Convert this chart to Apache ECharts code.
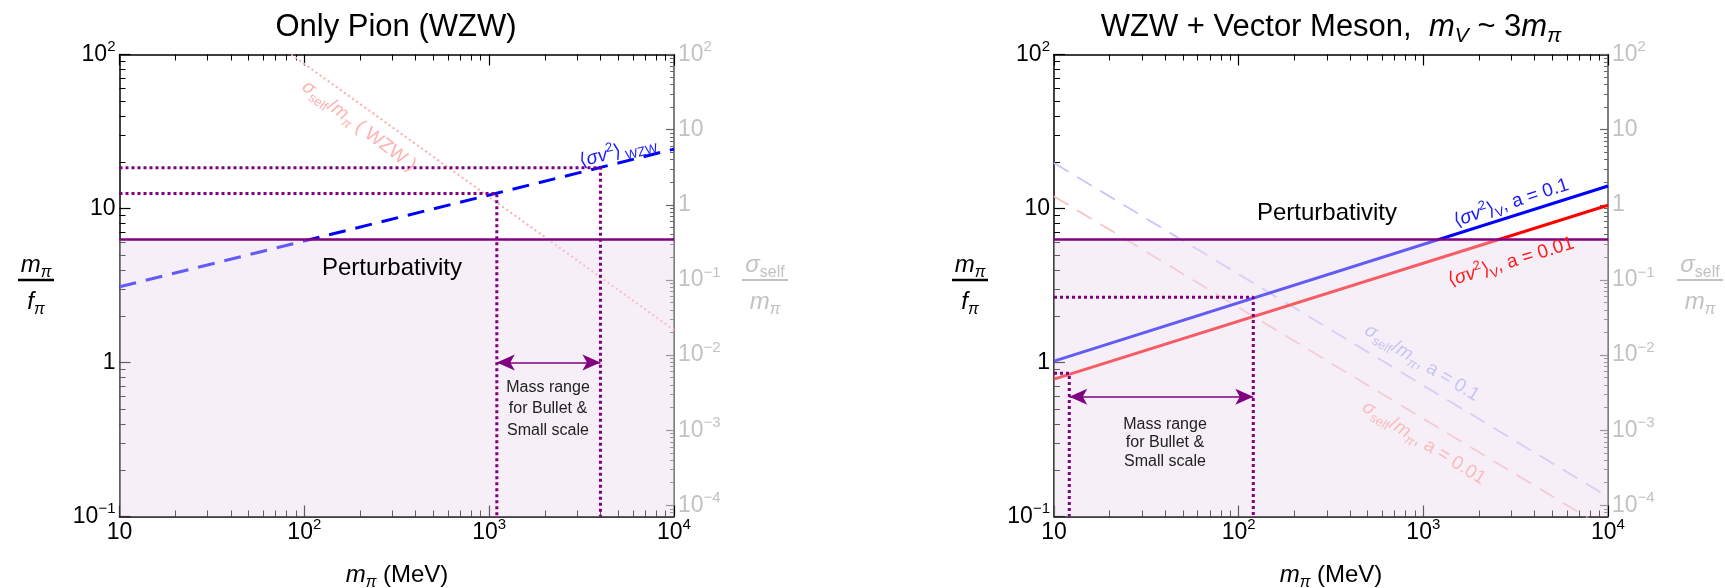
<!DOCTYPE html>
<html>
<head>
<meta charset="utf-8">
<script src="https://cdn.jsdelivr.net/npm/echarts@6/dist/echarts.min.js"></script>
<style>
  html, body { margin: 0; padding: 0; background: #ffffff; }
  #chart { width: 1725px; height: 588px; }
</style>
</head>
<body>
<div id="chart"></div>
<script>
// ---------- axis ranges and tick values ----------
const massRange  = [10, 10000];        // m_pi (MeV)
const ratioRange = [0.1, 100];         // m_pi / f_pi
const sigmaRange = [7.1e-5, 100];      // sigma_self / m_pi
const massTicks  = [10, 100, 1000, 10000];
const ratioTicks = [0.1, 1, 10, 100];
const sigmaTicks = [1e-4, 1e-3, 1e-2, 1e-1, 1, 10, 100];

// perturbativity bound  m_pi / f_pi < 2 pi
const perturbBound = 6.283;

// ---------- left panel: pion only (WZW) ----------
const wzwMass      = [10, 10000];
const wzwRatio     = [3.1, 24.3];      // <sigma v^2>_WZW
const wzwSelfMass  = [85, 10000];
const wzwSelf      = [100, 0.0215];    // sigma_self / m_pi (WZW)
const wzwGuideMass = [1100, 4000];     // mass range edges
const wzwGuideRatio = [12.5, 18.4];
const wzwArrowLevel = 1;

// ---------- right panel: WZW + vector meson ----------
const vecMass        = [10, 10000];
const vecRatioA1     = [1.02, 14.0];   // <sigma v^2>_V, a = 0.1
const vecRatioA01    = [0.78, 10.5];   // <sigma v^2>_V, a = 0.01
const vecSelfA1      = [3.6, 1.3e-4];  // sigma_self / m_pi, a = 0.1
const vecSelfA01     = [1.3, 4.7e-5];  // sigma_self / m_pi, a = 0.01
const vecGuideMass   = [12.1, 120];
const vecGuideRatio  = [0.85, 2.65];
const vecArrowLevel  = 0.6;

// ---------- styling ----------
const F = 'Liberation Sans';
const PURPLE = '#800080';
const SHADE = 'rgba(235,218,235,0.42)';
const GRAY_TXT = '#c2c2c2';

const grids = [
  { left: 119.5, top: 54.5, width: 554.5, height: 462 },
  { left: 1054, top: 54.5, width: 554, height: 462 }
];

function zip(xs, ys) { return xs.map((x, i) => [x, ys[i]]); }

function minorTicks(lo, hi) {
  const out = [];
  for (let e = Math.floor(Math.log10(lo)); e < Math.log10(hi); e++) {
    for (let k = 2; k <= 9; k++) {
      const v = k * Math.pow(10, e);
      if (v > lo && v < hi) out.push(v);
    }
  }
  return out;
}

function powLabel(v) {
  const e = Math.round(Math.log10(v));
  if (e === 0) return '{b|1}';
  if (e === 1) return '{b|10}';
  return '{b|10}{s|' + (e < 0 ? '\u2212' + (-e) : e) + '}';
}
function labelRich(color) {
  return {
    b: { fontSize: 23, fontFamily: F, color: color, lineHeight: 30 },
    s: { fontSize: 15, fontFamily: F, color: color, lineHeight: 17, verticalAlign: 'top' }
  };
}

function logAxis(gi, pos, range, major, minor, opts) {
  const base = {
    type: 'log', logBase: 10, gridIndex: gi, position: pos,
    min: range[0], max: range[1], splitLine: { show: false },
    axisLine: { show: true, onZero: false, lineStyle: { color: opts.line, width: 1.5 } }
  };
  const majorAxis = Object.assign({}, base, {
    axisTick: { show: true, inside: true, length: opts.major, customValues: major,
                lineStyle: { color: opts.tick, width: 1.2 } },
    axisLabel: opts.labels ? { show: true, customValues: major, formatter: powLabel,
                rich: labelRich(opts.labelColor), margin: opts.margin } : { show: false }
  });
  const minorAxis = Object.assign({}, base, {
    axisLine: { show: false, onZero: false },
    axisTick: { show: true, inside: true, length: opts.minor, customValues: minor,
                lineStyle: { color: opts.tick, width: 1 } },
    axisLabel: { show: false }
  });
  return [majorAxis, minorAxis];
}

const xAxes = [], yAxes = [];
[0, 1].forEach(gi => {
  const mMinor = minorTicks(massRange[0], massRange[1]);
  xAxes.push(...logAxis(gi, 'bottom', massRange, massTicks, mMinor,
    { line: '#000', tick: '#000', major: 11, minor: 6, labels: true, labelColor: '#000', margin: 1 }));
  xAxes.push(...logAxis(gi, 'top', massRange, massTicks, mMinor,
    { line: '#000', tick: '#000', major: 11, minor: 6, labels: false }));
  yAxes.push(...logAxis(gi, 'left', ratioRange, ratioTicks, minorTicks(ratioRange[0], ratioRange[1]),
    { line: '#000', tick: '#000', major: 11, minor: 6, labels: true, labelColor: '#000', margin: 4 }));
  yAxes.push(...logAxis(gi, 'right', sigmaRange, sigmaTicks, minorTicks(sigmaRange[0], sigmaRange[1]),
    { line: '#555', tick: '#666', major: 8, minor: 4, labels: true, labelColor: GRAY_TXT, margin: 4 }));
});
// axis indices: grid g -> x: 4g (main), y: 4g (ratio), 4g+2 (sigma)

function lineSeries(gi, yKind, data, color, width, dash, extra) {
  return Object.assign({
    type: 'line', xAxisIndex: 4 * gi, yAxisIndex: 4 * gi + (yKind === 'sigma' ? 2 : 0),
    data: data, showSymbol: false, symbol: 'none', silent: true, clip: true, z: 2,
    lineStyle: { color: color, width: width, type: dash || 'solid' }
  }, extra || {});
}
// translucent band below the perturbativity bound, laid over the curves
function shade(gi) {
  return lineSeries(gi, 'ratio', [[massRange[0], perturbBound], [massRange[1], perturbBound]],
    PURPLE, 2.5, 'solid', { z: 3, areaStyle: { color: SHADE, origin: 'start', opacity: 1 } });
}
function guide(gi, m, r) {
  return lineSeries(gi, 'ratio', [[massRange[0], r], [m, r], [m, ratioRange[0]]],
    PURPLE, 3, [3, 3], { z: 4 });
}
function arrow(gi, masses, level) {
  return lineSeries(gi, 'ratio', [], PURPLE, 1.5, 'solid', {
    z: 4,
    markLine: {
      silent: true, animation: false, symbol: ['arrow', 'arrow'], symbolSize: [12, 18],
      lineStyle: { color: PURPLE, width: 1.6, type: 'solid' },
      label: { show: false },
      data: [[{ coord: [masses[0], level] }, { coord: [masses[1], level] }]]
    }
  });
}

const series = [
  // left panel
  lineSeries(0, 'sigma', zip(wzwSelfMass, wzwSelf), '#ffaaaa', 2, [2, 3]),
  lineSeries(0, 'ratio', zip(wzwMass, wzwRatio), '#0000ff', 3, [17, 10]),
  shade(0),
  guide(0, wzwGuideMass[0], wzwGuideRatio[0]),
  guide(0, wzwGuideMass[1], wzwGuideRatio[1]),
  arrow(0, wzwGuideMass, wzwArrowLevel),
  // right panel
  lineSeries(1, 'sigma', zip(vecMass, vecSelfA1), '#c6c6fb', 1.8, [17, 10]),
  lineSeries(1, 'sigma', zip(vecMass, vecSelfA01), '#fbc2c2', 1.8, [17, 10]),
  lineSeries(1, 'ratio', zip(vecMass, vecRatioA1), '#0000ff', 3),
  lineSeries(1, 'ratio', zip(vecMass, vecRatioA01), '#ff0000', 3),
  shade(1),
  guide(1, vecGuideMass[0], vecGuideRatio[0]),
  guide(1, vecGuideMass[1], vecGuideRatio[1]),
  arrow(1, vecGuideMass, vecArrowLevel)
];

// ---------- text helpers ----------
function richSet(size, color) {
  const s = Math.round(size * 0.68);
  const lh = Math.round(size * 1.3);
  return {
    n:  { font: `${size}px ${F}`, fill: color, lineHeight: lh },
    i:  { font: `italic ${size}px ${F}`, fill: color, lineHeight: lh },
    sb: { font: `${s}px ${F}`, fill: color, lineHeight: s, verticalAlign: 'bottom' },
    si: { font: `italic ${s}px ${F}`, fill: color, lineHeight: s, verticalAlign: 'bottom' },
    sp: { font: `${s}px ${F}`, fill: color, lineHeight: s, verticalAlign: 'top' }
  };
}
function txt(x, y, text, size, color, rot, lineHeight) {
  const style = { text: text, rich: richSet(size, color), fill: color,
                  font: `${size}px ${F}`, align: 'center', verticalAlign: 'middle' };
  if (lineHeight) style.lineHeight = lineHeight;
  return { type: 'text', x: x, y: y, z: 50, silent: true,
           rotation: (rot || 0) * Math.PI / 180, style: style };
}
function fraction(cx, cy, num, den, size, color, barW, barLw) {
  return [
    txt(cx, cy - 15, num, size, color),
    { type: 'line', z: 50, silent: true,
      shape: { x1: cx - barW / 2, y1: cy, x2: cx + barW / 2, y2: cy },
      style: { stroke: color, lineWidth: barLw } },
    txt(cx, cy + 22, den, size, color)
  ];
}

const mPi = '{i|m}{si|\u03c0}';
const fPi = '{i|f}{si|\u03c0}';
const sigSelf = '{i|\u03c3}{sb|self}';
const sv2 = '{n|\u27e8}{i|\u03c3v}{sp|2}{n|\u27e9}';

const graphics = [
  // panel titles
  txt(396, 27, 'Only Pion (WZW)', 31, '#000'),
  txt(1331, 27, '{n|WZW + Vector Meson,  }{i|m}{si|V}{n| ~ 3}{i|m}{si|\u03c0}', 31, '#000'),
  // x-axis titles
  txt(397, 575, '{i|m}{si|\u03c0}{n| (MeV)}', 24, '#000'),
  txt(1331, 575, '{i|m}{si|\u03c0}{n| (MeV)}', 24, '#000'),
  // y-axis titles
  ...fraction(36, 280, mPi, fPi, 24, '#000', 36, 2.5),
  ...fraction(970, 280, mPi, fPi, 24, '#000', 36, 2.5),
  ...fraction(765, 280, sigSelf, mPi, 24, GRAY_TXT, 46, 2),
  ...fraction(1700, 280, sigSelf, mPi, 24, GRAY_TXT, 46, 2),
  // left panel annotations
  txt(392, 268, 'Perturbativity', 24, '#000'),
  txt(359, 126, '{i|\u03c3}{sb|self}{n|/}{i|m}{si|\u03c0}{n| ( WZW )}', 19, '#ffb0b0', -37),
  txt(618, 152, sv2 + '{sb| WZW}', 19, '#1a1aff', 14),
  txt(548, 409, 'Mass range\nfor Bullet &\nSmall scale', 16, '#222', 0, 21.5),
  // right panel annotations
  txt(1327, 213, 'Perturbativity', 24, '#000'),
  txt(1511, 203, sv2 + '{sb|V}{n|, a = 0.1}', 19, '#1a1aff', 18),
  txt(1511, 262, sv2 + '{sb|V}{n|, a = 0.01}', 19, '#ff1a1a', 17),
  txt(1422, 363, '{i|\u03c3}{sb|self}{n|/}{i|m}{si|\u03c0}{n|, a = 0.1}', 19, '#c4c4f6', -31.5),
  txt(1424, 443, '{i|\u03c3}{sb|self}{n|/}{i|m}{si|\u03c0}{n|, a = 0.01}', 19, '#f8bcbc', -32),
  txt(1165, 443, 'Mass range\nfor Bullet &\nSmall scale', 16, '#222', 0, 18.5)
];

const chart = echarts.init(document.getElementById('chart'), null, { renderer: 'canvas' });
chart.setOption({
  animation: false,
  backgroundColor: '#ffffff',
  grid: grids,
  xAxis: xAxes,
  yAxis: yAxes,
  series: series,
  graphic: graphics
});
</script>
</body>
</html>
